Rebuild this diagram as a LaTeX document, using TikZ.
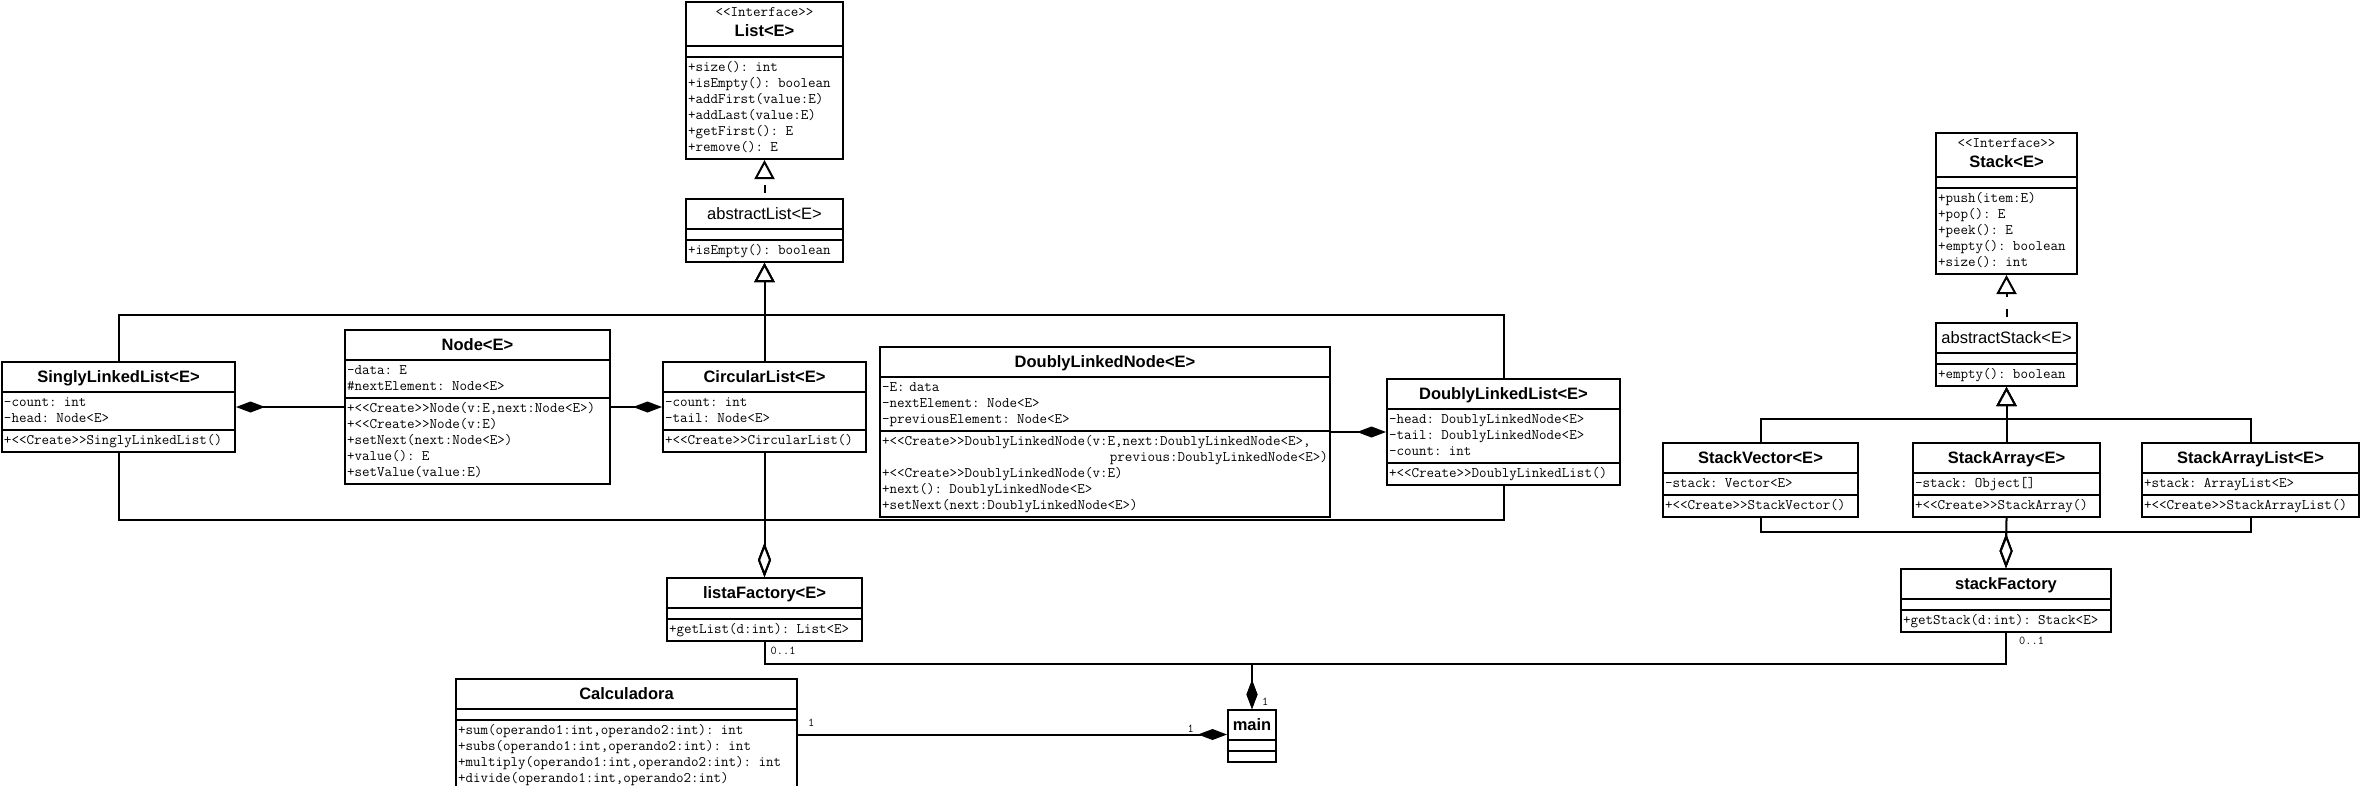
\documentclass[tikz,border=0pt]{standalone}
\usepackage{fontspec}
\newfontfamily\classfont{Liberation Sans}
\usetikzlibrary{arrows.meta,shapes.multipart}
\newcommand\tstrut{\rule[-7pt]{0pt}{24pt}}
\newcommand\ctitle[1]{\makebox[\hsize]{\classfont\bfseries\fontsize{16.5}{20}\selectfont\tstrut#1}}
\newcommand\atitle[1]{\makebox[\hsize]{\classfont\fontsize{16.5}{20}\selectfont\tstrut#1}}
\newcommand\ititle[1]{\makebox[\hsize]{\strut<<Interface>>}\\[-3pt]\makebox[\hsize]{\classfont\bfseries\fontsize{16.5}{20}\selectfont\tstrut#1}}
\newcommand\emptycmp{\rule{0pt}{5pt}}
\begin{document}
\begin{tikzpicture}[x=1pt,y=-1pt,line join=miter,font=\ttfamily\fontsize{14.6}{16}\selectfont,
	cls/.style={draw,line width=2pt,fill=white,rectangle split,rectangle split parts=3,anchor=north west,text width=#1,inner xsep=2pt,inner ysep=2pt,align=left},
	comp/.style={line width=2pt,-{Diamond[length=29pt,width=11pt]}},
	aggr/.style={line width=2pt,-{Diamond[length=34pt,width=13pt,fill=white]}},
	gen/.style={line width=2pt,-{Triangle[length=19pt,width=20pt,fill=white]}},
	real/.style={gen,dash pattern=on 8pt off 12pt,dash phase=15pt},
	lbl/.style={font=\ttfamily\fontsize{12}{14}\selectfont,inner sep=0pt}]
	\useasboundingbox (0,0) rectangle (2363,785);
	\coordinate (ltop) at (0,315); \coordinate (lbot) at (0,520);
	\coordinate (stop) at (0,419); \coordinate (sbot) at (0,532);
	\coordinate (mbus) at (0,664);
	% listas
	\node[cls=153pt] (list) at (685,1) {\ititle{List<E>}\nodepart{two}\emptycmp\nodepart{three}\strut+size(): int\\ \strut+isEmpty(): boolean\\ \strut+addFirst(value:E)\\ \strut+addLast(value:E)\\ \strut+getFirst(): E\\ \strut+remove(): E};
	\node[cls=153pt] (alist) at (685,198) {\atitle{abstractList<E>}\nodepart{two}\emptycmp\nodepart{three}\strut+isEmpty(): boolean};
	\node[cls=229pt] (sll) at (1,361) {\ctitle{SinglyLinkedList<E>}\nodepart{two}\strut-count: int\\ \strut-head: Node<E>\nodepart{three}\strut+<<Create>>SinglyLinkedList()};
	\node[cls=261pt] (node) at (344,329) {\ctitle{Node<E>}\nodepart{two}\strut-data: E\\ \strut\#nextElement: Node<E>\nodepart{three}\strut+<<Create>>Node(v:E,next:Node<E>)\\ \strut+<<Create>>Node(v:E)\\ \strut+setNext(next:Node<E>)\\ \strut+value(): E\\ \strut+setValue(value:E)};
	\node[cls=199pt] (clist) at (662,361) {\ctitle{CircularList<E>}\nodepart{two}\strut-count: int\\ \strut-tail: Node<E>\nodepart{three}\strut+<<Create>>CircularList()};
	\node[cls=446pt] (dlnode) at (879,346) {\ctitle{DoublyLinkedNode<E>}\nodepart{two}\strut-E: data\\ \strut-nextElement: Node<E>\\ \strut-previousElement: Node<E>\nodepart{three}\strut+<<Create>>DoublyLinkedNode(v:E,next:DoublyLinkedNode<E>,\\ \strut\hfill previous:DoublyLinkedNode<E>)\\ \strut+<<Create>>DoublyLinkedNode(v:E)\\ \strut+next(): DoublyLinkedNode<E>\\ \strut+setNext(next:DoublyLinkedNode<E>)};
	\node[cls=229pt] (dllist) at (1386,378) {\ctitle{DoublyLinkedList<E>}\nodepart{two}\strut-head: DoublyLinkedNode<E>\\ \strut-tail: DoublyLinkedNode<E>\\ \strut-count: int\nodepart{three}\strut+<<Create>>DoublyLinkedList()};
	\node[cls=191pt] (lfac) at (666,577) {\ctitle{listaFactory<E>}\nodepart{two}\emptycmp\nodepart{three}\strut+getList(d:int): List<E>};
	% calculadora y main
	\node[cls=337pt] (calc) at (455,678) {\ctitle{Calculadora}\nodepart{two}\emptycmp\nodepart{three}\strut+sum(operando1:int,operando2:int): int\\ \strut+subs(operando1:int,operando2:int): int\\ \strut+multiply(operando1:int,operando2:int): int\\ \strut+divide(operando1:int,operando2:int)};
	\node[cls=44pt] (main) at (1227,709) {\ctitle{main}\nodepart{two}\emptycmp\nodepart{three}\emptycmp};
	% pilas
	\node[cls=137pt] (stack) at (1935,132) {\ititle{Stack<E>}\nodepart{two}\emptycmp\nodepart{three}\strut+push(item:E)\\ \strut+pop(): E\\ \strut+peek(): E\\ \strut+empty(): boolean\\ \strut+size(): int};
	\node[cls=137pt] (astack) at (1935,322) {\atitle{abstractStack<E>}\nodepart{two}\emptycmp\nodepart{three}\strut+empty(): boolean};
	\node[cls=191pt] (svec) at (1662,442) {\ctitle{StackVector<E>}\nodepart{two}\strut-stack: Vector<E>\nodepart{three}\strut+<<Create>>StackVector()};
	\node[cls=183pt] (sarr) at (1912,442) {\ctitle{StackArray<E>}\nodepart{two}\strut-stack: Object[]\nodepart{three}\strut+<<Create>>StackArray()};
	\node[cls=213pt] (salist) at (2141,442) {\ctitle{StackArrayList<E>}\nodepart{two}\strut+stack: ArrayList<E>\nodepart{three}\strut+<<Create>>StackArrayList()};
	\node[cls=206pt] (sfac) at (1900,568) {\ctitle{stackFactory}\nodepart{two}\emptycmp\nodepart{three}\strut+getStack(d:int): Stack<E>};
	
	\draw[real] (alist.north) -- (list.south);
	\draw[gen] (sll.north) -- (sll.north |- ltop) -| (alist.south);
	\draw[gen] (dllist.north) -- (dllist.north |- ltop) -| (alist.south);
	\draw[gen] (clist.north) -- (alist.south);
	\draw[aggr] (sll.south) -- (sll.south |- lbot) -| (lfac.north);
	\draw[aggr] (dllist.south) -- (dllist.south |- lbot) -| (lfac.north);
	\draw[aggr] (clist.south) -- (lfac.north);
	\draw[comp] (node.west) -- (sll.east);
	\draw[comp] (node.east) -- (clist.west);
	\draw[comp] (dlnode.east) -- (dllist.west);
	
	\draw[real] (astack.north) -- (stack.south);
	\draw[gen] (svec.north) -- (svec.north |- stop) -| (astack.south);
	\draw[gen] (salist.north) -- (salist.north |- stop) -| (astack.south);
	\draw[gen] (sarr.north) -- (astack.south);
	\draw[aggr] (svec.south) -- (svec.south |- sbot) -| (sfac.north);
	\draw[aggr] (salist.south) -- (salist.south |- sbot) -| (sfac.north);
	\draw[aggr] (sarr.south) -- (sfac.north);
	
	\draw[comp] (lfac.south) -- (lfac.south |- mbus) -| (main.north);
	\draw[comp] (sfac.south) -- (sfac.south |- mbus) -| (main.north);
	\draw[comp] (calc.east) -- (calc.east -| main.west);
	\node[lbl,anchor=north west] (mlfac) at ([xshift=6pt,yshift=-5pt]lfac.south) {0..1};
	\node[lbl,anchor=north west] (msfac) at ([xshift=13pt,yshift=-4pt]sfac.south) {0..1};
	\node[lbl,anchor=south west] (mmain) at ([xshift=10pt,yshift=3pt]main.north) {1};
	\node[lbl,anchor=south east] (mmainw) at ([xshift=-33pt,yshift=3pt]main.west) {1};
	\node[lbl,anchor=south west] (mcalc) at ([xshift=10pt,yshift=8pt]calc.east) {1};
\end{tikzpicture}
\end{document}
